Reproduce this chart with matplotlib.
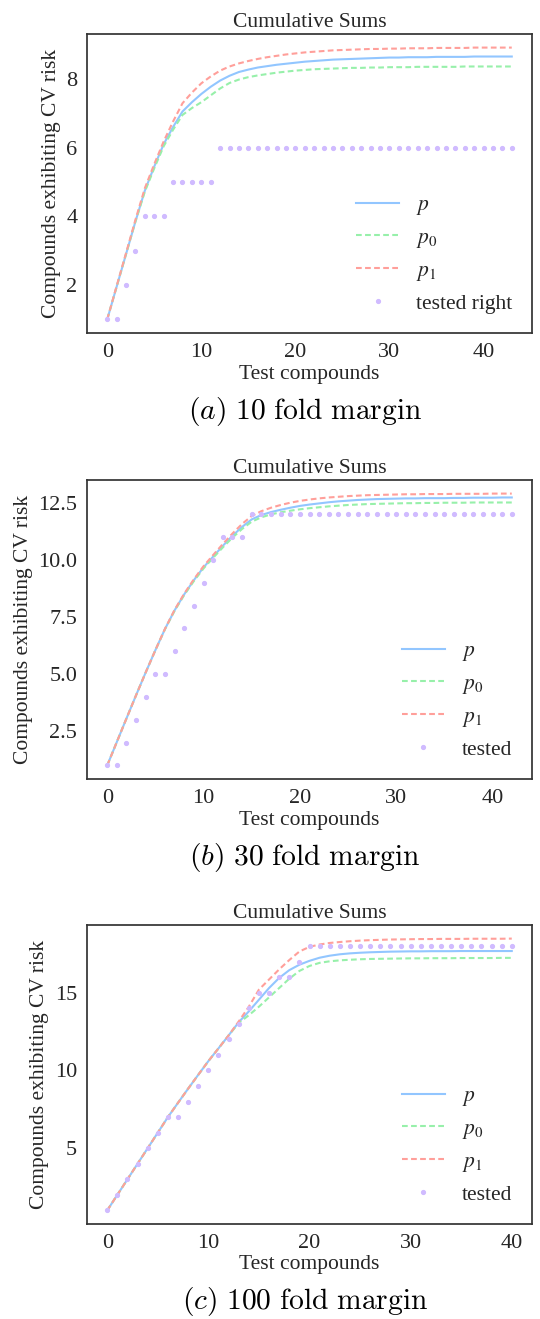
import numpy as np
import matplotlib
matplotlib.use("Agg")
from matplotlib import pyplot as plt

# cumulative sums per margin: expected counts p, p0, p1 and the tested counts
p_10 = [1.00, 1.95, 2.90, 3.85, 4.75, 5.45, 6.10, 6.60, 7.05, 7.32,
        7.56, 7.77, 7.95, 8.09, 8.20, 8.27, 8.33, 8.37, 8.41, 8.44,
        8.47, 8.50, 8.52, 8.54, 8.56, 8.57, 8.58, 8.59, 8.60, 8.61,
        8.62, 8.62, 8.63, 8.63, 8.63, 8.64, 8.64, 8.64, 8.64, 8.65,
        8.65, 8.65, 8.65, 8.65]
p0_10 = [1.00, 1.95, 2.90, 3.85, 4.72, 5.40, 6.04, 6.52, 6.95, 7.15,
         7.32, 7.52, 7.72, 7.88, 7.98, 8.05, 8.10, 8.14, 8.18, 8.21,
         8.24, 8.26, 8.28, 8.29, 8.30, 8.31, 8.32, 8.32, 8.33, 8.33,
         8.34, 8.34, 8.34, 8.35, 8.35, 8.35, 8.35, 8.35, 8.36, 8.36,
         8.36, 8.36, 8.36, 8.36]
p1_10 = [1.00, 1.97, 2.93, 3.90, 4.82, 5.52, 6.18, 6.76, 7.29, 7.60,
         7.87, 8.07, 8.24, 8.36, 8.45, 8.52, 8.58, 8.63, 8.67, 8.71,
         8.74, 8.77, 8.79, 8.81, 8.83, 8.84, 8.85, 8.86, 8.87, 8.87,
         8.88, 8.88, 8.89, 8.89, 8.89, 8.90, 8.90, 8.90, 8.90, 8.91,
         8.91, 8.91, 8.91, 8.91]
tested_10 = [1, 1, 2, 3, 4, 4, 4, 5, 5, 5,
             5, 5, 6, 6, 6, 6, 6, 6, 6, 6,
             6, 6, 6, 6, 6, 6, 6, 6, 6, 6,
             6, 6, 6, 6, 6, 6, 6, 6, 6, 6,
             6, 6, 6, 6]

p_30 = [1.00, 2.03, 3.06, 4.08, 5.08, 6.05, 6.98, 7.80, 8.50, 9.12,
        9.68, 10.15, 10.62, 11.06, 11.45, 11.78, 11.97, 12.10, 12.20, 12.29,
        12.37, 12.43, 12.48, 12.53, 12.57, 12.60, 12.63, 12.65, 12.67, 12.68,
        12.69, 12.70, 12.70, 12.71, 12.71, 12.71, 12.72, 12.72, 12.73, 12.73,
        12.73, 12.74, 12.74]
p0_30 = [1.00, 2.03, 3.06, 4.08, 5.08, 6.05, 6.97, 7.78, 8.47, 9.08,
         9.63, 10.10, 10.55, 10.98, 11.36, 11.68, 11.87, 12.00, 12.09, 12.16,
         12.22, 12.27, 12.31, 12.35, 12.38, 12.41, 12.43, 12.45, 12.46, 12.47,
         12.48, 12.49, 12.49, 12.50, 12.50, 12.51, 12.51, 12.51, 12.52, 12.52,
         12.52, 12.52, 12.52]
p1_30 = [1.00, 2.03, 3.06, 4.08, 5.08, 6.05, 6.99, 7.82, 8.53, 9.16,
         9.73, 10.22, 10.70, 11.16, 11.58, 11.93, 12.14, 12.29, 12.41, 12.51,
         12.59, 12.65, 12.70, 12.74, 12.77, 12.80, 12.82, 12.84, 12.85, 12.86,
         12.87, 12.88, 12.88, 12.89, 12.89, 12.89, 12.90, 12.90, 12.90, 12.90,
         12.91, 12.91, 12.91]
tested_30 = [1, 1, 2, 3, 4, 5, 5, 6, 7, 8,
             9, 10, 11, 11, 11, 12, 12, 12, 12, 12,
             12, 12, 12, 12, 12, 12, 12, 12, 12, 12,
             12, 12, 12, 12, 12, 12, 12, 12, 12, 12,
             12, 12, 12]

p_100 = [1.00, 2.00, 3.00, 4.00, 5.00, 6.00, 7.00, 7.92, 8.83, 9.72,
         10.60, 11.42, 12.25, 13.10, 13.80, 14.55, 15.30, 15.95, 16.45, 16.80,
         17.05, 17.25, 17.38, 17.47, 17.53, 17.57, 17.60, 17.62, 17.64, 17.65,
         17.66, 17.66, 17.67, 17.67, 17.67, 17.68, 17.68, 17.68, 17.68, 17.68,
         17.68]
p0_100 = [1.00, 2.00, 3.00, 4.00, 5.00, 6.00, 7.00, 7.92, 8.83, 9.72,
          10.60, 11.42, 12.25, 13.05, 13.55, 14.10, 14.70, 15.30, 15.90, 16.40,
          16.72, 16.92, 17.02, 17.08, 17.12, 17.15, 17.17, 17.18, 17.19, 17.20,
          17.21, 17.21, 17.22, 17.22, 17.22, 17.23, 17.23, 17.23, 17.23, 17.24,
          17.24]
p1_100 = [1.00, 2.00, 3.00, 4.00, 5.00, 6.00, 7.00, 7.92, 8.83, 9.72,
          10.60, 11.42, 12.25, 13.15, 14.10, 15.20, 15.85, 16.50, 17.10, 17.65,
          17.95, 18.10, 18.20, 18.26, 18.31, 18.35, 18.38, 18.40, 18.42, 18.43,
          18.44, 18.45, 18.45, 18.46, 18.46, 18.46, 18.47, 18.47, 18.47, 18.47,
          18.48]
tested_100 = [1, 2, 3, 4, 5, 6, 7, 7, 8, 9,
              10, 11, 12, 13, 14, 15, 15, 16, 16, 17,
              18, 18, 18, 18, 18, 18, 18, 18, 18, 18,
              18, 18, 18, 18, 18, 18, 18, 18, 18, 18,
              18]

panels = [
    ("a", "10", p_10, p0_10, p1_10, tested_10, "tested right"),
    ("b", "30", p_30, p0_30, p1_30, tested_30, "tested"),
    ("c", "100", p_100, p0_100, p1_100, tested_100, "tested"),
]

BLUE, GREEN, RED, PURPLE = "#92C6FF", "#97F0AA", "#FF9F9A", "#D0BBFF"
DASH = (0, (2.75, 1.6))

plt.rcParams.update({
    "font.family": ["Liberation Serif", "DejaVu Serif"],
    "mathtext.fontset": "stix",
    "text.color": "0.15",
    "axes.labelcolor": "0.15",
    "axes.edgecolor": "0.2",
    "axes.linewidth": 1.25,
    "xtick.color": "0.15",
    "ytick.color": "0.15",
    "xtick.major.size": 0,
    "ytick.major.size": 0,
    "xtick.major.pad": 7,
    "ytick.major.pad": 7,
})

fig = plt.figure(figsize=(5.4, 13.19), dpi=100)
H = 1319.0
tops = [34, 480, 925]
ax_h = 299

for (letter, fold, p, p0, p1, tested, tested_label), top in zip(panels, tops):
    ax = fig.add_axes([87 / 540, 1 - (top + ax_h) / H, 445 / 540, ax_h / H])
    x = np.arange(len(p))
    ax.plot(x, p, color=BLUE, lw=1.5, label="$p$")
    ax.plot(x, p0, color=GREEN, lw=1.5, ls=DASH, label="$p_0$")
    ax.plot(x, p1, color=RED, lw=1.5, ls=DASH, label="$p_1$")
    ax.plot(x, tested, ls="none", marker=".", ms=5.5, color=PURPLE,
            label=tested_label)
    ax.set_title("Cumulative Sums", fontsize=15.5, pad=5)
    ax.set_xlabel("Test compounds", fontsize=15.5, labelpad=2)
    ax.set_ylabel("Compounds exhibiting CV risk", fontsize=15.5, labelpad=4)
    ax.tick_params(labelsize=16)
    ax.legend(loc="lower right", frameon=False, fontsize=15.5)
    # subfigure caption below each panel
    cap_y = 1 - (top + ax_h + 78) / H
    fig.text(0.565, cap_y, rf"$({letter})\ \mathrm{{{fold}\ fold\ margin}}$",
             ha="center", va="center", fontsize=21.3, math_fontfamily="cm",
             color="black")

fig.savefig("out.png", dpi=100)
plt.close(fig)
